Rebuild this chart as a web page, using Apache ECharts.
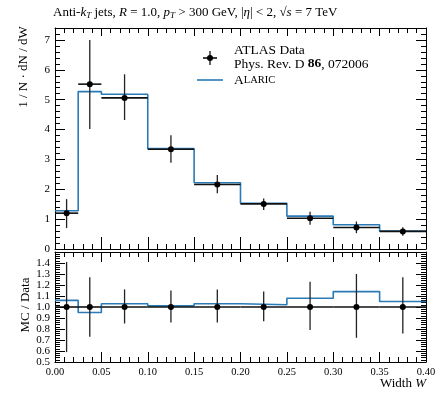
<!DOCTYPE html>
<html>
<head>
<meta charset="utf-8">
<script src="https://cdn.jsdelivr.net/npm/echarts@6/dist/echarts.min.js"></script>
<style>html,body{margin:0;padding:0;background:#fff}#c{width:441px;height:398px}</style>
</head>
<body>
<div id="c"></div>
<script>
// ---- data ----
const binEdges = [0, 0.025, 0.05, 0.1, 0.15, 0.2, 0.25, 0.3, 0.35, 0.4];
const dataValues = [1.20, 5.52, 5.06, 3.34, 2.16, 1.51, 1.03, 0.72, 0.59];
const dataErrLow = [0.70, 4.02, 4.32, 2.89, 1.87, 1.31, 0.81, 0.53, 0.44];
const dataErrHigh = [1.67, 7.00, 5.85, 3.81, 2.48, 1.69, 1.25, 0.92, 0.73];
const mcValues = [1.28, 5.27, 5.18, 3.36, 2.22, 1.53, 1.10, 0.81, 0.60];
const dataRatio = [1.0, 1.0, 1.0, 1.0, 1.0, 1.0, 1.0, 1.0, 1.0];
const ratioErrLow = [0.59, 0.73, 0.85, 0.86, 0.86, 0.87, 0.79, 0.72, 0.76];
const ratioErrHigh = [1.41, 1.27, 1.16, 1.15, 1.16, 1.14, 1.23, 1.30, 1.27];
const mcRatio = [1.06, 0.95, 1.03, 1.01, 1.03, 1.02, 1.08, 1.14, 1.05];
const upperYTicks = [0, 1, 2, 3, 4, 5, 6, 7];
const lowerYTicks = [0.5, 0.6, 0.7, 0.8, 0.9, 1.0, 1.1, 1.2, 1.3, 1.4];

const FONT = '"Liberation Serif", "DejaVu Serif", serif';
const BLUE = '#2a7ab6';

function stepPoints(vals) {
  const pts = [];
  vals.forEach((v, i) => { pts.push([binEdges[i], v]); pts.push([binEdges[i + 1], v]); });
  return pts;
}
function errRows(vals, lo, hi) {
  return vals.map((v, i) => [binEdges[i], binEdges[i + 1], v, lo[i], hi[i]]);
}
function renderErr(params, api) {
  const x0 = api.value(0), x1 = api.value(1), y = api.value(2), yl = api.value(3), yh = api.value(4);
  const m = (x0 + x1) / 2;
  const pL = api.coord([x0, y]), pR = api.coord([x1, y]);
  const pT = api.coord([m, yh]), pB = api.coord([m, yl]), pC = api.coord([m, y]);
  return {
    type: 'group',
    children: [
      { type: 'line', shape: { x1: pL[0], y1: pL[1], x2: pR[0], y2: pR[1] }, style: { stroke: '#111', lineWidth: 1.6 } },
      { type: 'line', shape: { x1: pT[0], y1: pT[1], x2: pB[0], y2: pB[1] }, style: { stroke: '#222', lineWidth: 1.3 } },
      { type: 'circle', shape: { cx: pC[0], cy: pC[1], r: 3 }, style: { fill: '#000' } }
    ]
  };
}

function xAx(grid, pos, labels, tickLen) {
  return {
    type: 'value', gridIndex: grid, position: pos, min: 0, max: 0.4, interval: 0.05,
    axisLine: { show: true, onZero: false, lineStyle: { color: '#000', width: 1 } },
    axisTick: { show: true, inside: true, length: tickLen, lineStyle: { color: '#000', width: 1 } },
    minorTick: { show: true, splitNumber: 5, length: 5, lineStyle: { color: '#000', width: 1 } },
    splitLine: { show: false },
    axisLabel: {
      show: labels, color: '#000', fontFamily: FONT, fontSize: 10.5, margin: 5,
      formatter: v => v.toFixed(2)
    }
  };
}
function yAx(grid, pos, labels, min, max, interval, ticks, digits) {
  return {
    type: 'value', gridIndex: grid, position: pos, min: min, max: max, interval: interval,
    axisLine: { show: true, onZero: false, lineStyle: { color: '#000', width: 1 } },
    axisTick: { show: true, inside: true, length: 10, lineStyle: { color: '#000', width: 1 } },
    minorTick: { show: true, splitNumber: 5, length: 5, lineStyle: { color: '#000', width: 1 } },
    splitLine: { show: false },
    axisLabel: {
      show: labels, color: '#000', fontFamily: FONT, fontSize: 11, margin: 5,
      formatter: v => {
        const hit = ticks.find(t => Math.abs(t - v) < 1e-6);
        return hit === undefined ? '' : hit.toFixed(digits);
      }
    }
  };
}

const chart = echarts.init(document.getElementById('c'), null, { renderer: 'canvas' });
chart.setOption({
  animation: false,
  backgroundColor: '#fff',
  grid: [
    { left: 55, top: 28, width: 371, height: 221 },
    { left: 55, top: 252, width: 371, height: 110 }
  ],
  xAxis: [
    xAx(0, 'bottom', false, 12),
    xAx(0, 'top', false, 8),
    xAx(1, 'bottom', true, 10),
    xAx(1, 'top', false, 10)
  ],
  yAxis: [
    yAx(0, 'left', true, 0, 7.4, 1, upperYTicks, 0),
    yAx(0, 'right', false, 0, 7.4, 1, upperYTicks, 0),
    yAx(1, 'left', true, 0.5, 1.5, 0.1, lowerYTicks, 1),
    yAx(1, 'right', false, 0.5, 1.5, 0.1, lowerYTicks, 1)
  ],
  series: [
    {
      type: 'line', xAxisIndex: 0, yAxisIndex: 0, data: stepPoints(mcValues),
      showSymbol: false, symbol: 'none', lineStyle: { color: BLUE, width: 1.6 }, z: 3
    },
    {
      type: 'custom', xAxisIndex: 0, yAxisIndex: 0, data: errRows(dataValues, dataErrLow, dataErrHigh),
      renderItem: renderErr, encode: { x: [0, 1], y: [2, 3, 4] }, z: 4
    },
    {
      type: 'line', xAxisIndex: 2, yAxisIndex: 2, data: stepPoints(mcRatio),
      showSymbol: false, symbol: 'none', lineStyle: { color: BLUE, width: 1.6 }, z: 3
    },
    {
      type: 'custom', xAxisIndex: 2, yAxisIndex: 2, data: errRows(dataRatio, ratioErrLow, ratioErrHigh),
      renderItem: renderErr, encode: { x: [0, 1], y: [2, 3, 4] }, z: 4
    }
  ],
  graphic: [
    {
      type: 'text', left: 53, top: 6,
      style: {
        text: '{t|Anti-}{i|k}{s|T}{t| jets, }{i|R}{t| = 1.0, }{i|p}{s|T}{t| > 300 GeV, |}{i|η}{t|| < 2, √}{i|s}{t| = 7 TeV}',
        rich: {
          t: { fontFamily: FONT, fontSize: 13, fill: '#000' },
          i: { fontFamily: FONT, fontSize: 13, fontStyle: 'italic', fill: '#000' },
          s: { fontFamily: FONT, fontSize: 9, fontStyle: 'italic', fill: '#000', padding: [6, 0, 0, 0] }
        }
      }
    },
    // legend
    { type: 'line', shape: { x1: 203, y1: 58, x2: 217, y2: 58 }, style: { stroke: '#111', lineWidth: 1.6 } },
    { type: 'line', shape: { x1: 210, y1: 51, x2: 210, y2: 65 }, style: { stroke: '#111', lineWidth: 1.3 } },
    { type: 'circle', shape: { cx: 210, cy: 58, r: 3 }, style: { fill: '#000' } },
    { type: 'line', shape: { x1: 197, y1: 80, x2: 223, y2: 80 }, style: { stroke: BLUE, lineWidth: 1.6 } },
    {
      type: 'text', x: 234, y: 50,
      style: { text: 'ATLAS Data', fontFamily: FONT, fontSize: 13.5, fill: '#000', verticalAlign: 'middle' }
    },
    {
      type: 'text', x: 234, y: 64,
      style: {
        text: '{t|Phys. Rev. D }{b|86}{t|, 072006}', verticalAlign: 'middle',
        rich: {
          t: { fontFamily: FONT, fontSize: 13.5, fill: '#000' },
          b: { fontFamily: FONT, fontSize: 13.5, fontWeight: 'bold', fill: '#000' }
        }
      }
    },
    {
      type: 'text', x: 234, y: 80,
      style: {
        text: '{a|A}{b|LARIC}', verticalAlign: 'middle',
        rich: {
          a: { fontFamily: FONT, fontSize: 13.5, fill: '#000' },
          b: { fontFamily: FONT, fontSize: 10.5, fill: '#000', padding: [1, 0, 0, 0] }
        }
      }
    },
    // axis titles
    {
      type: 'text', x: 24, y: 67, rotation: Math.PI / 2,
      style: {
        text: '1 / N · dN / dW', fontFamily: FONT, fontSize: 13, fill: '#000',
        align: 'center', verticalAlign: 'middle'
      }
    },
    {
      type: 'text', x: 26, y: 305, rotation: Math.PI / 2,
      style: {
        text: 'MC / Data', fontFamily: FONT, fontSize: 13, fill: '#000',
        align: 'center', verticalAlign: 'middle'
      }
    },
    {
      type: 'text', x: 426, y: 384,
      style: {
        text: '{t|Width }{i|W}', align: 'right', verticalAlign: 'middle',
        rich: {
          t: { fontFamily: FONT, fontSize: 13, fill: '#000' },
          i: { fontFamily: FONT, fontSize: 13, fontStyle: 'italic', fill: '#000' }
        }
      }
    }
  ]
});
</script>
</body>
</html>
